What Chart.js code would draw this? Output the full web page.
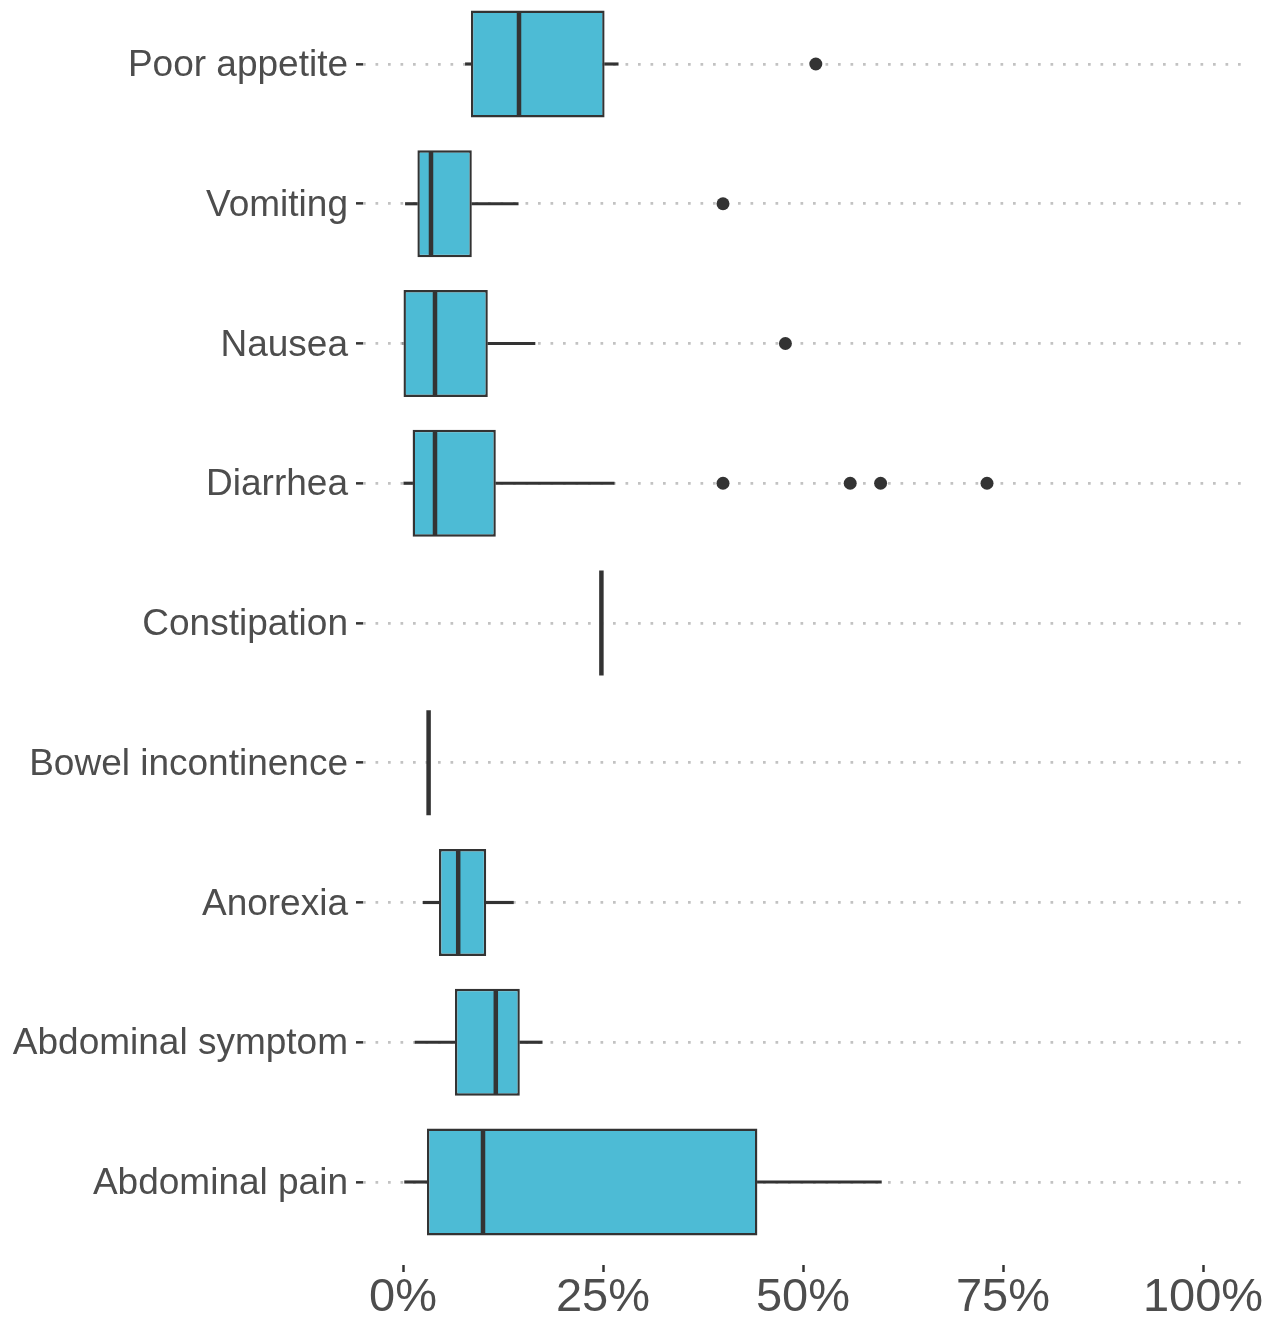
<!DOCTYPE html>
<html>
<head>
<meta charset="utf-8">
<title>Symptom boxplot</title>
<script src="https://cdn.jsdelivr.net/npm/chart.js@4/dist/chart.umd.min.js"></script>
<style>
  html, body { margin: 0; padding: 0; background: #fff; }
  #wrap { width: 1273px; height: 1320px; position: relative; }
</style>
</head>
<body>
<div id="wrap"><canvas id="boxChart"></canvas></div>
<script>
const categories = ['Poor appetite', 'Vomiting', 'Nausea', 'Diarrhea', 'Constipation',
    'Bowel incontinence', 'Anorexia', 'Abdominal symptom', 'Abdominal pain'];
const whiskerLow  = [7.8, 0.3, 0.0, 0.1, 24.8, 3.2, 2.5, 1.5, 0.2];
const q1          = [8.5, 1.8, 0.0, 1.2, 24.8, 3.2, 4.5, 6.5, 3.0];
const median      = [14.5, 3.5, 4.0, 4.0, 24.8, 3.2, 6.9, 11.6, 10.0];
const q3          = [25.2, 8.6, 10.6, 11.6, 24.8, 3.2, 10.4, 14.6, 44.3];
const whiskerHigh = [26.9, 14.4, 16.5, 26.4, 24.8, 3.2, 13.8, 17.4, 59.8];
const outlierCat  = [0, 1, 2, 3, 3, 3, 3];
const outlierVal  = [51.6, 40.0, 47.8, 40.0, 55.9, 59.7, 73.0];
const xTicks = [0, 25, 50, 75, 100];

const DARK = '#333333';
const FILL = '#4DBBD5';

// floating bars: [from, to] on the x axis, row index on the y axis
const boxData = categories.map((c, i) => ({ y: i, x: [q1[i], q3[i]] }));
const lowWhisker = categories.map((c, i) => ({ y: i, x: [whiskerLow[i], q1[i]] }));
const highWhisker = categories.map((c, i) => ({ y: i, x: [q3[i], whiskerHigh[i]] }));
const medianPts = categories.map((c, i) => ({ x: median[i], y: i }));
const outlierPts = outlierVal.map((v, k) => ({ x: v, y: outlierCat[k] }));

const ctx = document.getElementById('boxChart');

new Chart(ctx, {
    type: 'scatter',
    data: {
        datasets: [
            {
                type: 'scatter',
                data: medianPts,
                pointStyle: 'line',
                rotation: 90,
                pointRadius: 52.5,
                pointHoverRadius: 52.5,
                borderColor: DARK,
                pointBorderWidth: 4.5,
                borderWidth: 4.5
            },
            {
                type: 'scatter',
                data: outlierPts,
                pointRadius: 6.5,
                pointHoverRadius: 6.5,
                backgroundColor: DARK,
                borderColor: DARK,
                borderWidth: 0
            },
            {
                type: 'bar',
                indexAxis: 'y',
                grouped: false,
                data: boxData,
                backgroundColor: FILL,
                borderColor: DARK,
                borderWidth: 2.4,
                borderSkipped: false,
                barPercentage: 0.765,
                categoryPercentage: 1
            },
            {
                type: 'bar',
                indexAxis: 'y',
                grouped: false,
                data: lowWhisker,
                backgroundColor: DARK,
                borderWidth: 0,
                barThickness: 2.5
            },
            {
                type: 'bar',
                indexAxis: 'y',
                grouped: false,
                data: highWhisker,
                backgroundColor: DARK,
                borderWidth: 0,
                barThickness: 2.5
            }
        ]
    },
    options: {
        responsive: true,
        maintainAspectRatio: false,
        animation: false,
        layout: { autoPadding: false, padding: { left: 0, right: 30, top: 0, bottom: 0 } },
        plugins: {
            legend: { display: false },
            tooltip: { enabled: false }
        },
        scales: {
            x: {
                type: 'linear',
                position: 'bottom',
                min: -5,
                max: 105,
                afterBuildTicks: (scale) => { scale.ticks = xTicks.map(v => ({ value: v })); },
                afterFit: (scale) => { scale.height = 55; },
                border: { display: false },
                grid: {
                    drawOnChartArea: false,
                    drawTicks: true,
                    offset: false,
                    tickLength: 7,
                    tickColor: DARK,
                    tickWidth: 2.5,
                    tickBorderDash: []
                },
                ticks: {
                    padding: 0,
                    color: '#4D4D4D',
                    font: { family: '"Liberation Sans", Arial, sans-serif', size: 47, lineHeight: 1.1 },
                    callback: (v) => v + '%'
                }
            },
            y: {
                type: 'linear',
                position: 'left',
                reverse: true,
                min: -0.458,
                max: 8.594,
                offset: false,
                afterBuildTicks: (scale) => { scale.ticks = categories.map((c, i) => ({ value: i })); },
                afterFit: (scale) => {
                    scale.width = 363;
                    scale.paddingTop = 0;
                    scale.paddingBottom = 0;
                },
                border: { display: false, dash: [2.7, 9.8] },
                grid: {
                    offset: false,
                    color: '#C2C2C2',
                    lineWidth: 2.7,
                    drawTicks: true,
                    tickLength: 7,
                    tickColor: DARK,
                    tickWidth: 2.5,
                    tickBorderDash: []
                },
                ticks: {
                    padding: 8,
                    labelOffset: 2,
                    color: '#4D4D4D',
                    font: { family: '"Liberation Sans", Arial, sans-serif', size: 37 },
                    callback: (v) => categories[v]
                }
            }
        }
    }
});
</script>
</body>
</html>
